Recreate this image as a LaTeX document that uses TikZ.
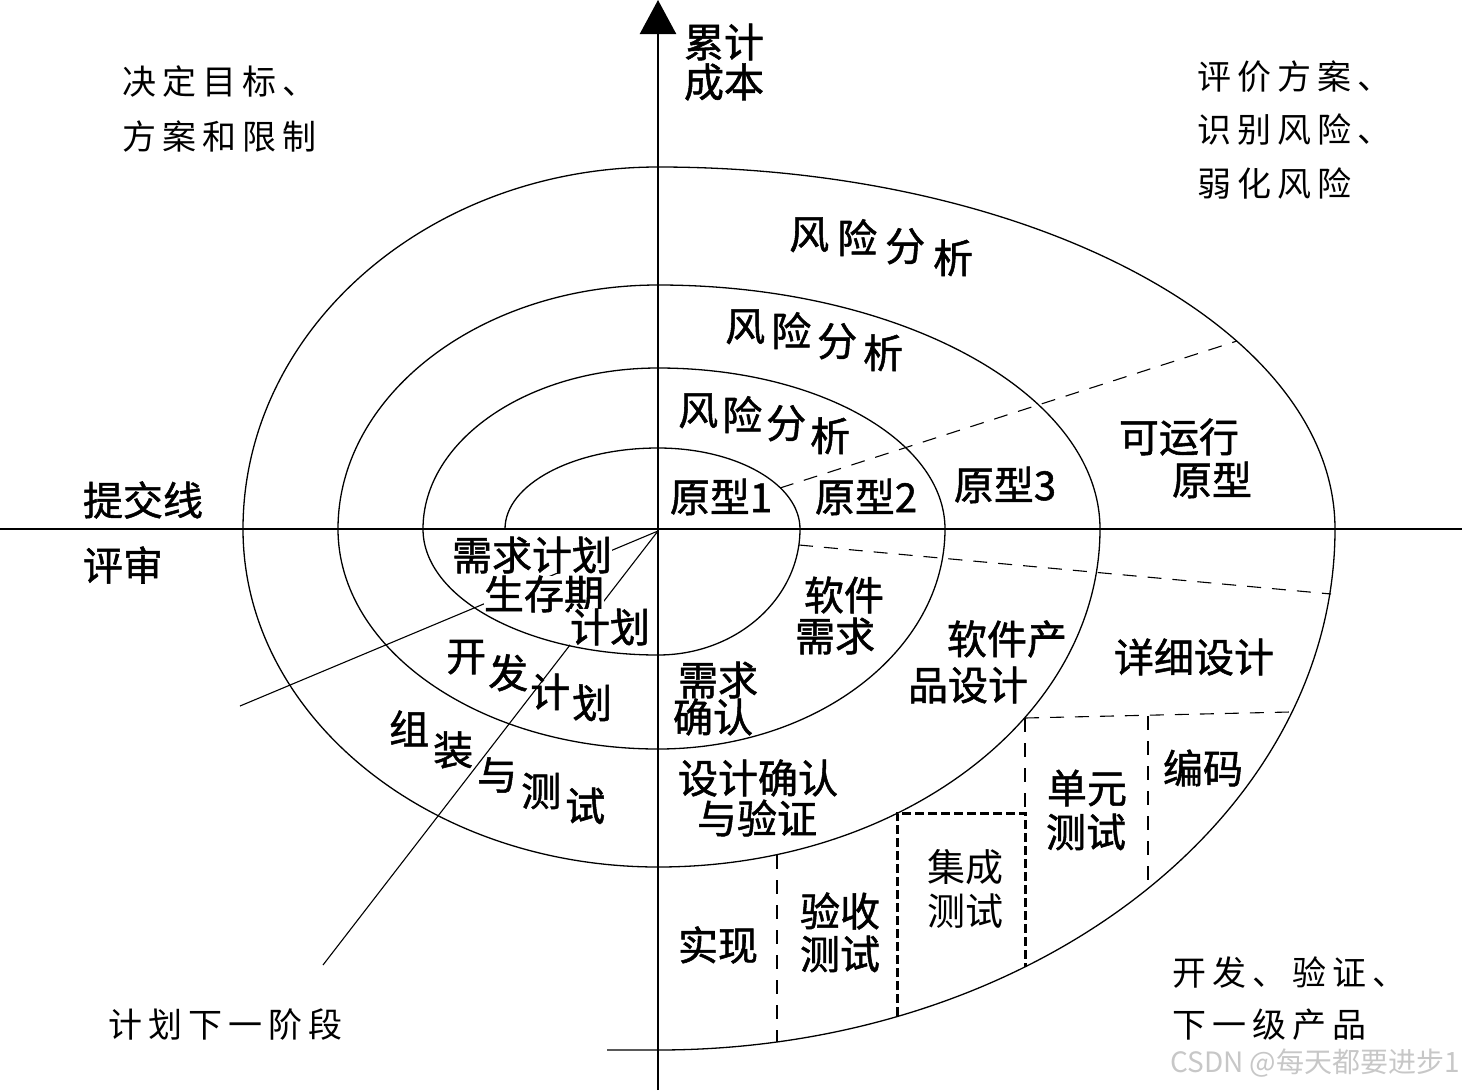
\documentclass[tikz,border=0pt]{standalone}
\usepackage{fontspec}
\setmainfont{Noto Sans CJK SC}
\newfontfamily\thinf[LetterSpace=18]{Noto Sans CJK SC}
\newfontfamily\heavyf[FakeBold=1.3]{Noto Sans CJK SC}
\usetikzlibrary{arrows.meta}
\begin{document}
\begin{tikzpicture}[x=1pt,y=-1pt,
  spiral/.style={line width=1.3pt},
  axisline/.style={line width=2.4pt},
  radline/.style={line width=1.1pt},
  dsh/.style={line width=1.1pt,dash pattern=on 14pt off 11pt},
  tdsh/.style={line width=3pt,dash pattern=on 9pt off 4pt},
  lab/.style={inner sep=0pt,font=\heavyf\fontsize{40}{44}\selectfont},
  tlab/.style={inner sep=0pt,font=\fontsize{38}{42}\selectfont},
  corner/.style={inner sep=0pt,anchor=west,font=\thinf\fontsize{34}{40}\selectfont},
  ]
\useasboundingbox (0,0) rectangle (1462,1090);
% axes
\coordinate (O) at (658,531);
\coordinate (axtop) at (658,0);
\coordinate (axbot) at (658,1090);
\coordinate (axl) at (0,529);
\coordinate (axr) at (1462,529);
\draw[axisline] (axl) -- (axr);
\draw[axisline,-{Triangle[width=36pt,length=34pt]}] (axbot) -- (axtop);
% spiral
\draw[spiral] (505,529)
  arc[start angle=180,end angle=90,x radius=153pt,y radius=81pt]
  arc[start angle=90,end angle=0,x radius=142pt,y radius=81pt]
  arc[start angle=0,end angle=-90,x radius=142pt,y radius=126pt]
  arc[start angle=270,end angle=180,x radius=235pt,y radius=126pt]
  arc[start angle=180,end angle=90,x radius=235pt,y radius=161pt]
  arc[start angle=90,end angle=0,x radius=287pt,y radius=161pt]
  arc[start angle=0,end angle=-90,x radius=287pt,y radius=220pt]
  arc[start angle=270,end angle=180,x radius=320pt,y radius=220pt]
  arc[start angle=180,end angle=90,x radius=320pt,y radius=244pt]
  arc[start angle=90,end angle=0,x radius=442pt,y radius=244pt]
  arc[start angle=0,end angle=-90,x radius=442pt,y radius=338pt]
  arc[start angle=270,end angle=180,x radius=415pt,y radius=338pt]
  arc[start angle=180,end angle=90,x radius=415pt,y radius=362pt]
  arc[start angle=90,end angle=0,x radius=677pt,y radius=362pt]
  arc[start angle=0,end angle=-90,x radius=677pt,y radius=521pt]
  -- (607,1050);
% radial lines
\coordinate (p1) at (240,706);
\coordinate (p2) at (323,965);
\draw[radline] (O) -- (p1);
\draw[radline] (O) -- (p2);
% dashed lines
\coordinate (d1a) at (780,488); \coordinate (d1b) at (1237,341);
\coordinate (d2a) at (799,545); \coordinate (d2b) at (1331,594);
\draw[dsh] (d1a) -- (d1b);
\draw[dsh] (d2a) -- (d2b);
\coordinate (ba) at (1025,718); \coordinate (bb) at (1290,712);
\coordinate (bc) at (1025,813);
\coordinate (bd) at (1148,716); \coordinate (be) at (1148,888);
\coordinate (bf) at (777,855); \coordinate (bg) at (777,1042);
\coordinate (bh) at (897,1016); \coordinate (bi) at (897,813);
\coordinate (bj) at (1025,967);
\draw[dsh] (ba) -- (bb);
\draw[dsh] (ba) -- (bc);
\draw[dsh] (bd) -- (be);
\draw[dsh] (bf) -- (bg);
\draw[tdsh] (bh) -- (bi) -- (bc) -- (bj);
% labels
\node[lab] (lj1) at (724,42) {累计};
\node[lab] (lj2) at (724,82) {成本};
\node[lab] (tjx) at (143,500) {提交线};
\node[lab] (ps) at (123,565) {评审};
\node[lab] (fx1) [anchor=base west] at (789,249) {风\kern8pt\raisebox{-4pt}{险}\kern8pt\raisebox{-12pt}{分}\kern8pt\raisebox{-24pt}{析}};
\node[lab] (fx2) [anchor=base west] at (725,341) {风\kern6pt\raisebox{-5pt}{险}\kern6pt\raisebox{-15pt}{分}\kern6pt\raisebox{-27pt}{析}};
\node[lab] (fx3) [anchor=base west] at (678,425) {风\kern4pt\raisebox{-5pt}{险}\kern4pt\raisebox{-13pt}{分}\kern4pt\raisebox{-26pt}{析}};
\node[lab] (yx1) at (721,497) {原型1};
\node[lab] (yx2) at (866,497) {原型2};
\node[lab] (yx3) at (1005,485) {原型3};
\node[lab] (ky1) at (1179,437) {可运行};
\node[lab] (ky2) at (1212,480) {原型};
\node[lab,fill=white] (xqjh) at (532,555) {需求计划};
\node[lab,fill=white] (scq) at (544,594) {生存期};
\node[lab,fill=white] (jh) at (610,627) {计划};
\node[lab] (kfjh) [anchor=base west] at (446,671) {开\kern2pt\raisebox{-17pt}{发}\kern2pt\raisebox{-36pt}{计}\kern2pt\raisebox{-47pt}{划}};
\node[lab] (zz) [anchor=base west] at (389,744) {组\kern4pt\raisebox{-21pt}{装}\kern4pt\raisebox{-46pt}{与}\kern4pt\raisebox{-62pt}{测}\kern4pt\raisebox{-77pt}{试}};
\node[lab] (rj1) at (844,595) {软件};
\node[lab] (rj2) at (835,636) {需求};
\node[lab] (qr1) at (718,680) {需求};
\node[lab] (qr2) at (713,717) {确认};
\node[lab] (cp1) at (1007,639) {软件产};
\node[lab] (cp2) at (968,685) {品设计};
\node[lab] (sj1) at (758,778) {设计确认};
\node[lab] (sj2) at (757,818) {与验证};
\node[lab] (xxsj) at (1194,657) {详细设计};
\node[lab] (bm) at (1203,768) {编码};
\node[lab] (dy1) at (1087,788) {单元};
\node[lab] (dy2) at (1086,832) {测试};
\node[tlab] (jc1) at (965,867) {集成};
\node[tlab] (jc2) at (965,911) {测试};
\node[lab] (ys1) at (840,911) {验收};
\node[lab] (ys2) at (840,954) {测试};
\node[lab] (sx) at (718,945) {实现};
% corner texts
\node[corner] (c1a) at (122,82) {决定目标、};
\node[corner] (c1b) at (122,137) {方案和限制};
\node[corner] (c2a) at (1197,77) {评价方案、};
\node[corner] (c2b) at (1197,130) {识别风险、};
\node[corner] (c2c) at (1197,183) {弱化风险};
\node[corner] (c3a) at (1172,973) {开发、验证、};
\node[corner] (c3b) at (1172,1025) {下一级产品};
\node[corner] (c4) at (108,1025) {计划下一阶段};
\node[anchor=east,inner sep=0pt,font=\fontsize{28}{30}\selectfont,text=black!22] (wm) at (1460,1063) {CSDN @每天都要进步1};
\end{tikzpicture}
\end{document}
